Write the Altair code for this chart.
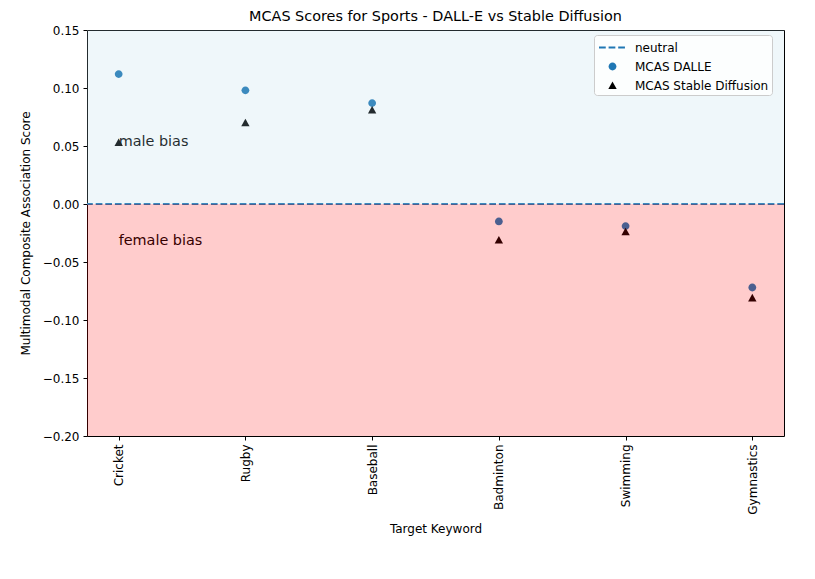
import altair as alt
import pandas as pd

keywords = ["Cricket", "Rugby", "Baseball", "Badminton", "Swimming", "Gymnastics"]
dalle = [0.112, 0.098, 0.087, -0.015, -0.019, -0.072]
sd = [0.053, 0.070, 0.081, -0.031, -0.024, -0.081]
series_names = ["neutral", "MCAS DALLE", "MCAS Stable Diffusion"]
y_ticks = [-0.20, -0.15, -0.10, -0.05, 0.00, 0.05, 0.10, 0.15]
male_span = [0.0, 0.15]
female_span = [-0.20, 0.0]
note_labels = ["male bias", "female bias"]
note_y = [0.05, -0.035]
note_x = ["Cricket", "Cricket"]

points = pd.DataFrame({
    "keyword": keywords * 2,
    "score": dalle + sd,
    "series": ["MCAS DALLE"] * len(keywords) + ["MCAS Stable Diffusion"] * len(keywords),
})
notes = pd.DataFrame({"keyword": note_x, "y": note_y, "label": note_labels})
zero = pd.DataFrame({"y": [0.0]})
male_df = pd.DataFrame({"lo": [male_span[0]], "hi": [male_span[1]]})
female_df = pd.DataFrame({"lo": [female_span[0]], "hi": [female_span[1]]})

FONT = "DejaVu Sans"
W, H = 697, 406

# custom symbol paths (unit box [-1,1] is drawn at sqrt(size) px = 19 px)
dash_path = ("M-1.42,-0.1H-0.71V0.1H-1.42Z M-0.41,-0.1H0.30V0.1H-0.41Z "
             "M0.60,-0.1H1.31V0.1H0.60Z")
circle_path = "M0.41,0A0.41,0.41 0 1,1 -0.41,0A0.41,0.41 0 1,1 0.41,0Z"
tri_path = "M0,-0.43L0.44,0.37L-0.44,0.37Z"
SYM = 361

xscale = alt.Scale(type="point", domain=keywords, padding=0.25)
yscale = alt.Scale(domain=[-0.20, 0.15], nice=False, zero=False)

x_enc = alt.X("keyword:N", scale=xscale, sort=keywords,
              axis=alt.Axis(title="Target Keyword", labelAngle=-90, labelPadding=4,
                            tickSize=4, titlePadding=9))
y_enc = alt.Y("score:Q", scale=yscale,
              axis=alt.Axis(title="Multimodal Composite Association Score", values=y_ticks,
                            labelExpr="replace(format(datum.value, '.2f'), '-', '\u2212')",
                            tickSize=4, labelPadding=4, titlePadding=10))

rule = alt.Chart(zero).mark_rule(color="#1f77b4", strokeDash=[6.7, 2.9], strokeWidth=1.8).encode(
    y=alt.Y("y:Q", scale=yscale))

leg = alt.Legend(title=None, orient="none", legendX=507, legendY=5)
pts = alt.Chart(points).mark_point(filled=True, opacity=1, size=SYM, strokeWidth=0).encode(
    x=x_enc,
    y=y_enc,
    color=alt.Color("series:N", scale=alt.Scale(domain=series_names,
                                                range=["#1f77b4", "#1f77b4", "#000000"]),
                    legend=leg),
    shape=alt.Shape("series:N", scale=alt.Scale(domain=series_names,
                                                range=[dash_path, circle_path, tri_path]),
                    legend=leg),
)

txt = alt.Chart(notes).mark_text(align="left", baseline="alphabetic", fontSize=14.4,
                                 font=FONT, color="#000000").encode(
    x=alt.X("keyword:N", scale=xscale, sort=keywords),
    y=alt.Y("y:Q", scale=yscale),
    text="label:N")

band_m = alt.Chart(male_df).mark_rect(opacity=0.2, color="#add8e6").encode(
    y=alt.Y("lo:Q", scale=yscale), y2="hi:Q")
band_f = alt.Chart(female_df).mark_rect(opacity=0.2, color="#ff0000").encode(
    y=alt.Y("lo:Q", scale=yscale), y2="hi:Q")

chart = alt.layer(rule, pts, txt, band_m, band_f).properties(
    width=W, height=H,
    title=alt.TitleParams("MCAS Scores for Sports - DALL-E vs Stable Diffusion",
                          font=FONT, fontSize=14.4, fontWeight="normal", color="#000000",
                          offset=0),
    autosize=alt.AutoSizeParams(type="none"),
    padding={"left": 79, "top": 22, "right": 20, "bottom": 140},
).configure_view(stroke="#000000", strokeWidth=1).configure_axis(
    grid=False, domain=False, labelFont=FONT, titleFont=FONT, labelFontSize=12,
    titleFontSize=12, titleFontWeight="normal", labelColor="#000000", titleColor="#000000",
    tickColor="#000000", tickWidth=1,
).configure_legend(
    labelFont=FONT, labelFontSize=12, labelColor="#000000", padding=3,
    strokeColor="#cccccc", fillColor="rgba(255,255,255,0.8)", cornerRadius=3,
    symbolStrokeWidth=0, labelOffset=13, rowPadding=3, symbolOpacity=1, symbolSize=SYM,
    symbolOffset=6,
)

chart.save("out.html", embed_options={"renderer": "svg", "actions": False})
